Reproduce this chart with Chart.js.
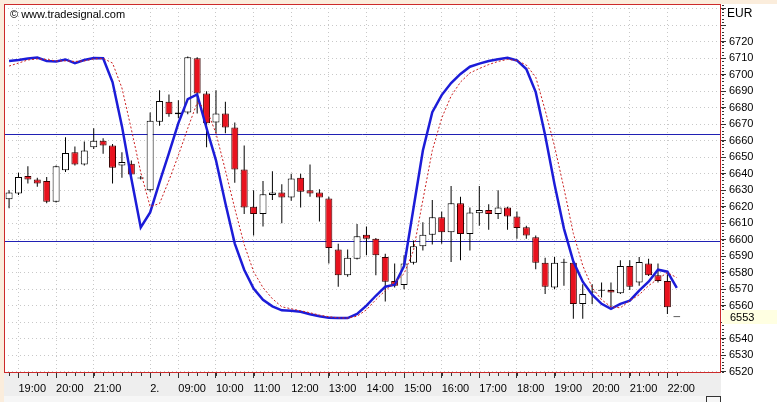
<!DOCTYPE html>
<html><head><meta charset="utf-8">
<script src="https://cdn.jsdelivr.net/npm/chart.js@4.4.1/dist/chart.umd.min.js"></script>
<style>html,body{margin:0;padding:0;background:#fff;overflow:hidden}#wrap{position:relative;width:777px;height:402px}canvas{display:block}</style>
</head><body><div id="wrap"><canvas id="c" width="777" height="402"></canvas></div>
<script>
// ---- data (15-minute candles, index 0 = first bar) ----
const openP  = [6624.5,6628,6638.5,6636.5,6635.5,6623,6642,6653,6645.5,6656,6660,6657,6645,6646,6637,6630,6671.5,6683.5,6676,6677,6710,6688.5,6671,6676.5,6668,6642.5,6620,6615.5,6627,6628.5,6625.5,6637.5,6630,6628.5,6625,6594,6578.5,6588.5,6603,6600.5,6589.5,6575,6572.5,6586,6596,6603,6613.5,6604.5,6622,6603.5,6616,6618,6615.5,6619.5,6614,6607.5,6601.5,6586,6571,6586,6586,6561,6568,6569,6569.5,6567.5,6584,6574,6585.5,6578.5,6575,6553];
const highP  = [6630,6640.5,6644.5,6637.5,6638,6645,6662,6656.5,6659.5,6667.5,6661.5,6658,6653,6648,6638.5,6677,6690.5,6688,6684.5,6711,6710.5,6690,6690.5,6683.5,6671,6657,6630,6635.5,6641.5,6633.5,6640,6640,6645.5,6630.5,6626,6597.5,6594,6609.5,6608,6601,6591.5,6585.5,6590.5,6599.5,6610.5,6624,6617,6632.5,6626,6619.5,6632.5,6621.5,6630,6620,6617,6608.5,6602.5,6589,6589.5,6588.5,6586.5,6573,6573,6574,6574,6587.5,6587.5,6589.5,6588.5,6585.5,6579,6553];
const lowP   = [6619,6627,6634,6632,6622,6622.5,6641,6645,6645,6655,6652,6634,6637.5,6639,6636.5,6629,6669,6674.5,6673.5,6676,6676.5,6656,6664.5,6664.5,6634.5,6615.5,6602.5,6608,6624,6610,6623.5,6619.5,6626,6611,6585.5,6571.5,6577.5,6588,6590.5,6578.5,6562.5,6571,6570,6585,6593.5,6597,6597.5,6586.5,6587.5,6593.5,6608.5,6606,6612.5,6606,6600.5,6600.5,6582,6567,6570,6572,6552,6552,6561,6565,6559,6567,6569.5,6572,6578,6574,6555,6553];
const closeP = [6628.5,6638,6636.5,6634,6623,6644.5,6652.5,6645.5,6654,6660,6657,6643.5,6647,6639.5,6637,6672,6684,6676,6677,6710.5,6688.5,6670.5,6676.5,6668,6642.5,6619.5,6615.5,6627.5,6628.5,6625.5,6637,6629,6628,6625.5,6595,6578.5,6589,6602,6600.5,6590.5,6574.5,6572,6585.5,6596,6603,6613.5,6604.5,6622,6603.5,6616.5,6618,6615.5,6619.5,6614,6607,6602.5,6586,6571.5,6586,6586,6561,6567,6568,6569,6568,6584,6571.5,6586.5,6578.5,6575,6559,6553];
const oscLine = [6708.3,6708.9,6709.8,6710.4,6708.3,6708,6709.2,6707,6708.9,6710.1,6709.9,6695.5,6668.8,6637.1,6607.4,6616.5,6634.8,6652.4,6670.6,6685.2,6688,6667.5,6648.1,6622,6597.6,6581.8,6570.3,6563.6,6559.6,6557.2,6556.9,6556.3,6554.8,6553.6,6552.6,6552.5,6552.5,6555,6560,6566,6571.5,6572.7,6584,6619,6654,6677.3,6687.6,6694.9,6700.4,6704.8,6706.7,6708.3,6709.3,6710.2,6708.6,6703.4,6689.4,6663.3,6633.5,6606.7,6586.7,6574.5,6566.6,6561.1,6558.1,6561.1,6563,6569.1,6574.5,6581.8,6580.6,6570.8];
const sigLine = [6705.2,6707,6708.9,6709.5,6709.2,6708.3,6708.3,6708,6708.3,6709.5,6709.8,6707,6691.9,6666.9,6640.8,6620,6621.9,6635.9,6651.1,6667.5,6683,6679,6664.5,6642,6618.9,6597,6580.6,6570.9,6564.2,6559.3,6558.1,6556.9,6555.7,6554.3,6553.3,6552.6,6552.5,6553.6,6557.5,6563.6,6569.1,6574,6579.4,6593.4,6624,6654,6673.6,6687,6695.5,6701,6703.7,6706.1,6708,6709.2,6708.6,6705.8,6698.5,6678.5,6656.6,6631.1,6603.7,6584.3,6570.9,6563.6,6559.3,6558.7,6563,6566.6,6572.1,6576.3,6580,6577];
const levels = [6664, 6599];
const hourTickIdx = [1,5,9,15,18,22,26,30,34,38,42,46,50,54,58,62,66,70];
const hourTickLabels = ['19:00','20:00','21:00','2.','09:00','10:00','11:00','12:00','13:00','14:00','15:00','16:00','17:00','18:00','19:00','20:00','21:00','22:00'];
const priceTicks = [6520,6530,6540,6550,6560,6570,6580,6590,6600,6610,6620,6630,6640,6650,6660,6670,6680,6690,6700,6710,6720,6730,6740];
const priceLabelMax = 6720;
const lastPrice = 6553;
const currency = 'EUR';
const copyright = '\u00A9 www.tradesignal.com';

const idx = openP.map((_, i) => i);
const FONT = 'Liberation Sans';

const decor = {
  id: 'decor',
  beforeDraw(chart) {
    const {ctx, chartArea: a, width, height} = chart;
    ctx.save();
    ctx.fillStyle = '#ffffff'; ctx.fillRect(0, 0, width, height);
    ctx.fillStyle = '#fbeddc'; ctx.fillRect(0, 0, width, a.top); ctx.fillRect(0, 0, a.left, height);
    ctx.fillStyle = '#eeeeee'; ctx.fillRect(a.left, a.bottom, a.right - a.left, 24);
    ctx.fillStyle = '#f6f6f6'; ctx.fillRect(a.left, a.bottom + 24, a.right - a.left, height - a.bottom - 24);
    ctx.restore();
  },
  beforeDatasetsDraw(chart) {
    const {ctx, chartArea: a, scales: {y}} = chart;
    ctx.save();
    ctx.strokeStyle = '#2020b4'; ctx.lineWidth = 1;
    levels.forEach(l => {
      const py = Math.round(y.getPixelForValue(l)) + 0.5;
      ctx.beginPath(); ctx.moveTo(a.left, py); ctx.lineTo(a.right, py); ctx.stroke();
    });
    ctx.restore();
  },
  afterDraw(chart) {
    const {ctx, chartArea: a, scales: {x, y}, width} = chart;
    ctx.save();
    ctx.strokeStyle = '#cc2a2a'; ctx.lineWidth = 1;
    ctx.strokeRect(a.left + 0.5, a.top + 0.5, a.right - a.left - 1, a.bottom - a.top);
    ctx.strokeStyle = '#333';
    idx.forEach(i => {
      const px = Math.round(x.getPixelForValue(i)) + 0.5;
      ctx.beginPath(); ctx.moveTo(px, a.bottom + 1); ctx.lineTo(px, a.bottom + 4); ctx.stroke();
    });
    for (let v = priceTicks[0]; v <= y.max; v += 2) {
      const py = Math.round(y.getPixelForValue(v)) + 0.5;
      ctx.beginPath(); ctx.moveTo(a.right + 1, py); ctx.lineTo(a.right + 3, py); ctx.stroke();
    }
    ctx.fillStyle = '#000';
    ctx.font = '11px "' + FONT + '"';
    ctx.textBaseline = 'middle'; ctx.textAlign = 'left';
    ctx.fillText(copyright, a.left + 6, a.top + 11);
    ctx.font = '12px "' + FONT + '"';
    ctx.fillText(currency, a.right + 6, 14);
    const py = Math.round(y.getPixelForValue(lastPrice));
    ctx.fillStyle = '#ffffe2';
    ctx.fillRect(a.right + 1, py - 7, width - a.right - 1, 14);
    ctx.fillStyle = '#000';
    ctx.font = '11px "' + FONT + '"';
    ctx.fillText(String(lastPrice), a.right + 9, py + 0.5);
    ctx.strokeStyle = '#333';
    ctx.strokeRect(706.5, 396.5, 14, 8);
    ctx.restore();
  }
};

new Chart(document.getElementById('c'), {
  data: {
    datasets: [
      { type: 'line', label: 'signal', order: 0,
        data: idx.map(i => ({x: i, y: sigLine[i]})),
        borderColor: '#cc2222', borderWidth: 1, borderDash: [2, 2], pointRadius: 0, tension: 0 },
      { type: 'line', label: 'osc', order: 1,
        data: idx.map(i => ({x: i, y: oscLine[i]})),
        borderColor: '#1c1cd8', borderWidth: 2.5, pointRadius: 0, tension: 0 },
      { type: 'bar', label: 'body', order: 2, grouped: false,
        data: idx.map(i => ({x: i, y: [openP[i], closeP[i]]})),
        backgroundColor: idx.map(i => closeP[i] >= openP[i] ? '#ffffff' : '#e8121e'),
        borderColor: idx.map(i => closeP[i] >= openP[i] ? '#000000' : '#3a0000'),
        borderWidth: 1, borderSkipped: false, barThickness: 7, minBarLength: 1, inflateAmount: 0 },
      { type: 'bar', label: 'wick', order: 3, grouped: false,
        data: idx.map(i => ({x: i, y: [lowP[i], highP[i]]})),
        backgroundColor: '#000000', borderWidth: 0, barThickness: 1, inflateAmount: 0 }
    ]
  },
  options: {
    responsive: false, animation: false, devicePixelRatio: 1,
    layout: { padding: { left: 4, top: 4, right: 0, bottom: 0 } },
    plugins: { legend: { display: false }, tooltip: { enabled: false } },
    scales: {
      x: {
        type: 'linear', position: 'bottom', min: -0.54, max: 75.7, offset: false,
        afterBuildTicks: s => { s.ticks = hourTickIdx.map(v => ({value: v})); },
        afterFit: s => { s.height = 30; s.paddingLeft = 0; s.paddingRight = 0; },
        ticks: {
          autoSkip: false, maxRotation: 0, align: 'start', padding: 4,
          color: '#000', font: { family: FONT, size: 11 },
          callback: v => { const k = hourTickIdx.indexOf(v); return k >= 0 ? hourTickLabels[k] : ''; }
        },
        grid: { offset: false, color: '#c8c8c8', lineWidth: 1, tickLength: 6, tickColor: '#333' },
        border: { display: false, dash: [1, 3] }
      },
      y: {
        type: 'linear', position: 'right', min: 6519.8, max: 6742.8,
        afterBuildTicks: s => { s.ticks = priceTicks.map(v => ({value: v})); },
        afterFit: s => { s.width = 56; s.paddingTop = 0; s.paddingBottom = 0; },
        ticks: {
          autoSkip: false, padding: 3, color: '#000', font: { family: FONT, size: 11 },
          callback: v => (v > priceLabelMax || v === 6550) ? '' : String(v)
        },
        grid: { color: '#c8c8c8', lineWidth: 1, tickLength: 5, tickColor: '#333' },
        border: { display: false, dash: [1, 3] }
      }
    }
  },
  plugins: [decor]
});
</script>
</body></html>
